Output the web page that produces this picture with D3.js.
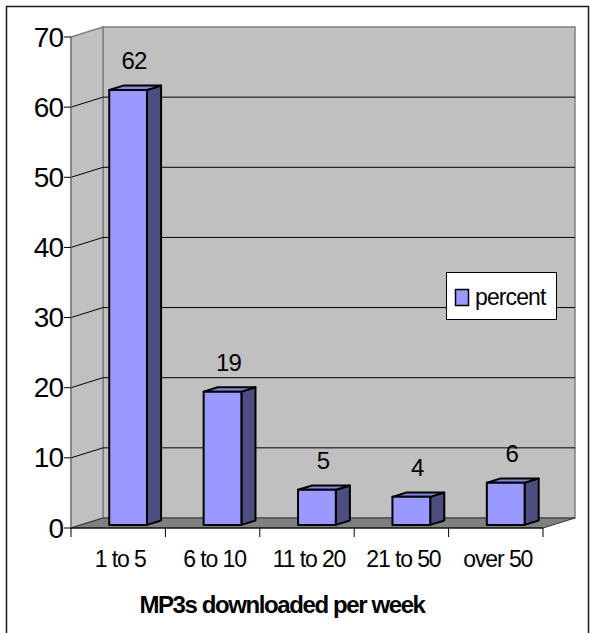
<!DOCTYPE html>
<html>
<head>
<meta charset="utf-8">
<script src="https://cdn.jsdelivr.net/npm/d3@7"></script>
<style>
  html, body { margin: 0; padding: 0; background: #fff; }
  svg { display: block; font-family: "Liberation Sans", Arial, sans-serif; }
</style>
</head>
<body>
<svg id="chart" width="590" height="633"></svg>
<script>
// Weekly MP3 download counts, share of respondents
const categories = ["1 to 5", "6 to 10", "11 to 20", "21 to 50", "over 50"];
const percent = [62, 19, 5, 4, 6];
const yTicks = [0, 10, 20, 30, 40, 50, 60, 70];
const seriesName = "percent";
const xTitle = "MP3s downloaded per week";

const svg = d3.select("#chart");

// front plane of the 3D box and its depth offset
const plotLeft = 71, plotRight = 543, plotBottom = 528, plotTop = 37;
const depthX = 32, depthY = -10;
const barDepth0 = 0.31, barDepth1 = 0.75;

const y = d3.scaleLinear().domain([0, 70]).range([plotBottom, plotTop]);
const xBar = d3.scaleBand().domain(categories).range([plotLeft, plotRight])
  .paddingInner(0.6).paddingOuter(0.3);
const xCat = d3.scaleBand().domain(categories).range([plotLeft, plotRight]).padding(0);

const pt = (x, yy, t) => [x + t * depthX, yy + t * depthY];
const poly = pts => pts.map(p => p.join(",")).join(" ");

// outer chart frame
svg.append("rect").attr("x", 6.5).attr("y", 6.5).attr("width", 582).attr("height", 640)
  .attr("fill", "#fff").attr("stroke", "#1a1a1a").attr("stroke-width", 1.5);

// walls
const wall = svg.append("g");
wall.append("polygon")
  .attr("points", poly([pt(plotLeft, y(70), 1), pt(plotRight, y(70), 1), pt(plotRight, y(0), 1), pt(plotLeft, y(0), 1)]))
  .attr("fill", "#c0c0c0").attr("stroke", "#808080").attr("stroke-width", 1.5);
wall.append("polygon")
  .attr("points", poly([pt(plotLeft, y(70), 0), pt(plotLeft, y(70), 1), pt(plotLeft, y(0), 1), pt(plotLeft, y(0), 0)]))
  .attr("fill", "#c0c0c0").attr("stroke", "#808080").attr("stroke-width", 1.5);
// floor
wall.append("polygon")
  .attr("points", poly([pt(plotLeft, y(0), 0), pt(plotLeft, y(0), 1), pt(plotRight, y(0), 1), pt(plotRight, y(0), 0)]))
  .attr("fill", "#808080").attr("stroke", "#333").attr("stroke-width", 1);

// gridlines on side and back wall
const grid = svg.append("g").attr("stroke", "#000").attr("stroke-width", 1).attr("fill", "none");
yTicks.filter(v => v > 0 && v < 70).forEach(v => {
  grid.append("polyline")
    .attr("points", poly([pt(plotLeft, y(v), 0), pt(plotLeft, y(v), 1), pt(plotRight, y(v), 1)]));
});

// bars
const bars = svg.append("g").attr("stroke", "#000").attr("stroke-width", 2).attr("stroke-linejoin", "round");
categories.forEach((c, i) => {
  const v = percent[i];
  const x0 = xBar(c), x1 = x0 + xBar.bandwidth();
  const yt = y(v), yb = y(0);
  bars.append("polygon")
    .attr("points", poly([pt(x1, yt, barDepth0), pt(x1, yt, barDepth1), pt(x1, yb, barDepth1), pt(x1, yb, barDepth0)]))
    .attr("fill", "#4d4d80");
  bars.append("polygon")
    .attr("points", poly([pt(x0, yt, barDepth0), pt(x0, yt, barDepth1), pt(x1, yt, barDepth1), pt(x1, yt, barDepth0)]))
    .attr("fill", "#8686df");
  bars.append("polygon")
    .attr("points", poly([pt(x0, yt, barDepth0), pt(x1, yt, barDepth0), pt(x1, yb, barDepth0), pt(x0, yb, barDepth0)]))
    .attr("fill", "#9999ff");
});

// value labels
svg.append("g").selectAll("text").data(categories).join("text")
  .attr("x", (c) => pt(xBar(c) + xBar.bandwidth() / 2, 0, barDepth0)[0] + 6)
  .attr("y", (c, i) => pt(0, y(percent[i]), barDepth0)[1] - 21)
  .attr("text-anchor", "middle").attr("font-size", 24).attr("letter-spacing", -0.8).attr("fill", "#000")
  .text((c, i) => percent[i]);

// y axis
const yAxis = svg.append("g");
yAxis.append("line").attr("x1", plotLeft).attr("x2", plotLeft).attr("y1", y(70)).attr("y2", y(0))
  .attr("stroke", "#808080").attr("stroke-width", 1.5);
yAxis.selectAll("line.tick").data(yTicks).join("line").attr("class", "tick")
  .attr("x1", plotLeft - 7).attr("x2", plotLeft).attr("y1", d => y(d)).attr("y2", d => y(d))
  .attr("stroke", "#000").attr("stroke-width", 1);
yAxis.selectAll("text").data(yTicks).join("text")
  .attr("x", plotLeft - 8).attr("y", d => y(d)).attr("dy", "0.34em")
  .attr("text-anchor", "end").attr("font-size", 28).attr("letter-spacing", -1).attr("fill", "#000")
  .text(d => d);

// x axis
const xAxis = svg.append("g");
xAxis.append("line").attr("x1", plotLeft).attr("x2", plotRight).attr("y1", plotBottom).attr("y2", plotBottom)
  .attr("stroke", "#000").attr("stroke-width", 1);
const xBounds = categories.map(c => xCat(c)).concat([plotRight]);
xAxis.selectAll("line.tick").data(xBounds).join("line").attr("class", "tick")
  .attr("x1", d => d).attr("x2", d => d).attr("y1", plotBottom).attr("y2", plotBottom + 9)
  .attr("stroke", "#000").attr("stroke-width", 1);
xAxis.selectAll("text").data(categories).join("text")
  .attr("x", c => xCat(c) + xCat.bandwidth() / 2 + 2).attr("y", 567)
  .attr("text-anchor", "middle").attr("font-size", 23).attr("letter-spacing", -1.1).attr("fill", "#000")
  .text(c => c);

svg.append("text").attr("x", 282).attr("y", 613)
  .attr("text-anchor", "middle").attr("font-size", 24).attr("font-weight", "bold")
  .attr("letter-spacing", -1.4).attr("fill", "#000").text(xTitle);

// legend
const lg = svg.append("g");
lg.append("rect").attr("x", 446.5).attr("y", 272.5).attr("width", 110).attr("height", 47)
  .attr("fill", "#fff").attr("stroke", "#000").attr("stroke-width", 1);
lg.append("rect").attr("x", 455.5).attr("y", 289.5).attr("width", 13).attr("height", 16)
  .attr("fill", "#9999ff").attr("stroke", "#000").attr("stroke-width", 1.5);
lg.append("text").attr("x", 475).attr("y", 305).attr("font-size", 23).attr("letter-spacing", -0.9)
  .attr("fill", "#000").text(seriesName);
</script>
</body>
</html>
